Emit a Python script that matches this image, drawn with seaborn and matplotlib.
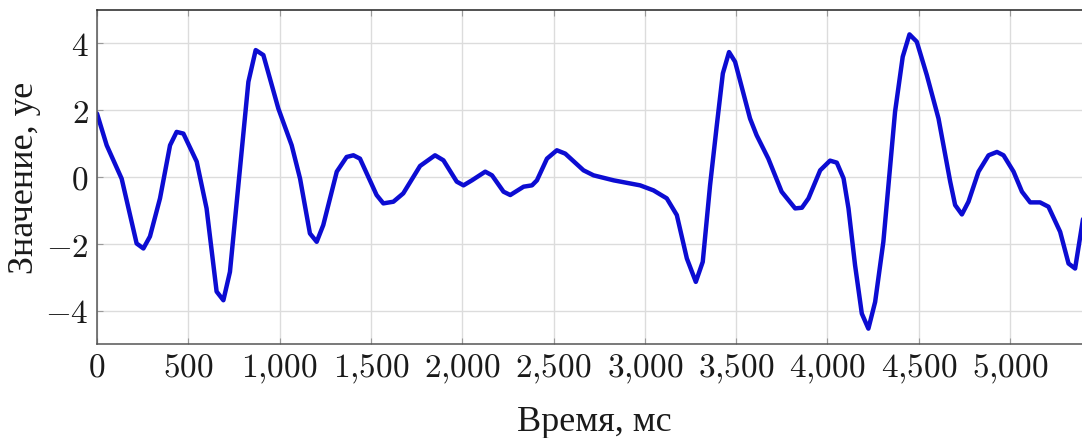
import matplotlib
matplotlib.use("Agg")
import matplotlib.pyplot as plt
import seaborn as sns
import pandas as pd
from matplotlib.ticker import FixedLocator, FixedFormatter

time_ms = [0, 53, 135, 217, 254, 290, 345, 400, 436, 473, 546, 600, 655, 692, 728, 774,
           829, 869, 911, 993, 1066, 1112, 1166, 1203, 1239, 1313, 1367, 1404, 1440, 1531,
           1568, 1623, 1677, 1769, 1851, 1897, 1970, 2007, 2053, 2126, 2163, 2226, 2263,
           2336, 2382, 2409, 2464, 2518, 2564, 2664, 2719, 2829, 2974, 3047, 3120, 3175,
           3230, 3279, 3317, 3357, 3394, 3427, 3461, 3494, 3576, 3612, 3676, 3749, 3823,
           3860, 3896, 3960, 4014, 4051, 4088, 4115, 4151, 4188, 4224, 4261, 4306, 4370,
           4412, 4449, 4489, 4544, 4608, 4672, 4699, 4736, 4772, 4827, 4882, 4928, 4964,
           5019, 5065, 5110, 5164, 5210, 5274, 5320, 5356, 5394, 5430]
value = [1.90, 0.95, -0.05, -1.99, -2.14, -1.78, -0.64, 0.95, 1.35, 1.30, 0.46, -0.94,
         -3.43, -3.69, -2.84, -0.25, 2.85, 3.80, 3.65, 2.05, 0.95, -0.05, -1.69, -1.94,
         -1.44, 0.16, 0.60, 0.65, 0.55, -0.54, -0.79, -0.74, -0.49, 0.33, 0.65, 0.50,
         -0.14, -0.25, -0.10, 0.16, 0.05, -0.44, -0.54, -0.29, -0.25, -0.10, 0.55, 0.80,
         0.70, 0.20, 0.05, -0.10, -0.25, -0.40, -0.64, -1.14, -2.44, -3.14, -2.54, -0.25,
         1.55, 3.10, 3.74, 3.45, 1.75, 1.25, 0.55, -0.44, -0.94, -0.92, -0.64, 0.20, 0.49,
         0.43, -0.04, -0.94, -2.64, -4.09, -4.54, -3.74, -1.94, 1.95, 3.60, 4.27, 4.05,
         3.05, 1.75, -0.14, -0.84, -1.12, -0.74, 0.16, 0.65, 0.75, 0.65, 0.16, -0.44,
         -0.76, -0.76, -0.89, -1.64, -2.59, -2.74, -1.44, -0.20]

x_ticks = [0, 500, 1000, 1500, 2000, 2500, 3000, 3500, 4000, 4500, 5000]
x_tick_labels = ["0", "500", "1,000", "1,500", "2,000", "2,500", "3,000", "3,500",
                 "4,000", "4,500", "5,000"]
y_ticks = [-4, -2, 0, 2, 4]
y_tick_labels = ["−4", "−2", "0", "2", "4"]

x_label = "Время, мс"
y_label = "Значение, уе"

df = pd.DataFrame({"t": time_ms, "v": value})

sns.set_theme(style="white")
plt.rcParams["font.family"] = ["Liberation Serif", "DejaVu Serif"]
plt.rcParams["mathtext.fontset"] = "cm"

W, H = 1082, 439
fig = plt.figure(figsize=(W / 100, H / 100), dpi=100)
x_max = 5450
px_per_ms = 0.18262
left_px, top_px, bottom_px = 97, 11, 345
right_px = left_px + x_max * px_per_ms
ax = fig.add_axes([left_px / W, 1 - bottom_px / H, (right_px - left_px) / W,
                   (bottom_px - top_px) / H])

sns.lineplot(data=df, x="t", y="v", ax=ax, sort=False, estimator=None,
             color="#0c0cd2", linewidth=3.2)

ax.set_xlim(0, x_max)
ax.set_ylim(-5, 5)

def mt(s):
    s = s.replace(",", "{,}").replace("−", "-")
    return "$" + s + "$"

ax.xaxis.set_major_locator(FixedLocator(x_ticks))
ax.xaxis.set_major_formatter(FixedFormatter([mt(s) for s in x_tick_labels]))
ax.yaxis.set_major_locator(FixedLocator(y_ticks))
ax.yaxis.set_major_formatter(FixedFormatter([mt(s) for s in y_tick_labels]))

ax.grid(True, color="#dcdcdc", linewidth=1.0)
ax.set_axisbelow(True)
ax.tick_params(axis="both", which="major", direction="in", length=4, width=0.8,
               color="#9a9a9a", labelsize=24, labelcolor="#1a1a1a",
               top=True, right=True, bottom=True, left=True)
ax.tick_params(axis="x", pad=6)
ax.tick_params(axis="y", pad=6)
for s in ax.spines.values():
    s.set_color("#222222")
    s.set_linewidth(1.1)
ax.spines["bottom"].set_color("#555555")
ax.spines["left"].set_color("#555555")

ax.set_xlabel(x_label, fontsize=26, color="#1a1a1a", labelpad=14)
ax.set_ylabel(y_label, fontsize=26, color="#1a1a1a", labelpad=3)

fig.savefig("out.png", dpi=100)
